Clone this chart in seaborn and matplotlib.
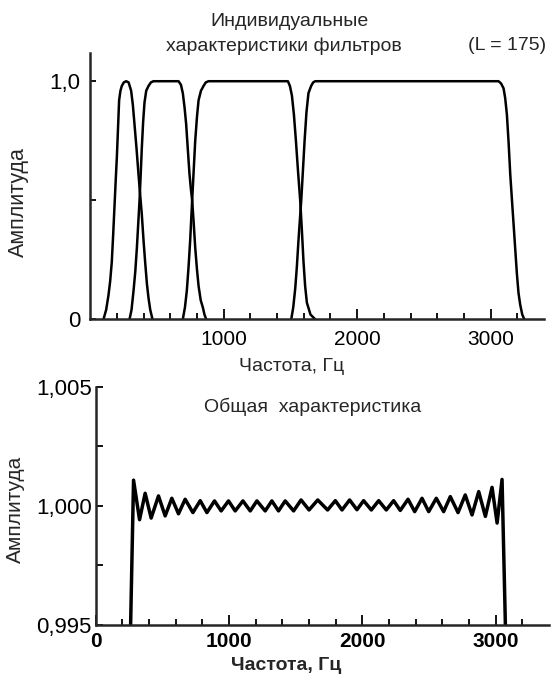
import numpy as np
import pandas as pd
import matplotlib
matplotlib.use("Agg")
import matplotlib.pyplot as plt
import seaborn as sns
from matplotlib.ticker import FixedLocator

# individual filter responses, Hz / amplitude
f1_freq = [100, 120, 137, 150, 162, 172, 182, 192, 200, 210, 217, 227, 237, 252, 270,
           288, 307, 320, 332, 347, 362, 375, 387, 400, 412, 425, 437, 450, 467]
f1_amp = [0, .04, .10, .16, .24, .35, .47, .59, .68, .82, .92, .96, .98, .995, 1.0,
          .995, .96, .90, .82, .72, .61, .52, .44, .33, .24, .15, .09, .04, 0]

f2_freq = [295, 310, 325, 338, 350, 360, 370, 378, 387, 397, 407, 420, 437, 455, 474,
           662, 680, 694, 707, 719, 732, 744, 754, 764, 776, 787, 800, 812, 828, 844, 856, 869]
f2_amp = [0, .04, .12, .20, .30, .40, .50, .60, .72, .83, .91, .96, .98, .995, 1.0,
          1.0, .985, .95, .89, .82, .71, .61, .55, .50, .40, .30, .21, .14, .08, .05, .02, 0]

f3_freq = [694, 710, 724, 737, 749, 757, 764, 775, 787, 800, 812, 830, 849, 866, 886,
           1481, 1496, 1511, 1526, 1541, 1557, 1573, 1586, 1598, 1610, 1623, 1650, 1685]
f3_amp = [0, .05, .12, .22, .33, .42, .50, .62, .75, .85, .92, .96, .98, .995, 1.0,
          1.0, .98, .94, .86, .75, .62, .50, .37, .24, .14, .07, .02, 0]

f4_freq = [1506, 1521, 1536, 1548, 1560, 1571, 1581, 1594, 1606, 1620, 1635, 1655, 1670, 1685,
           3059, 3078, 3096, 3108, 3121, 3134, 3146, 3159, 3171, 3184, 3196, 3208, 3221, 3236, 3251]
f4_amp = [0, .05, .13, .22, .33, .42, .50, .63, .75, .87, .95, .98, .995, 1.0,
          1.0, .99, .97, .93, .86, .74, .61, .50, .40, .29, .19, .11, .06, .02, 0]

# overall response: peaks and troughs of the ripple
total_freq = [262, 284, 329, 371, 416, 471, 521, 571, 621, 671, 729, 784, 834, 891, 941,
              996, 1046, 1104, 1159, 1209, 1271, 1321, 1371, 1421, 1484, 1540, 1600, 1665,
              1739, 1797, 1847, 1904, 1959, 2009, 2067, 2122, 2179, 2234, 2284, 2342, 2392,
              2447, 2497, 2554, 2609, 2659, 2717, 2771, 2822, 2872, 2922, 2972, 3010, 3047, 3072]
total_amp = [0.995, 1.00108, 0.99942, 1.00053, 0.99949, 1.00042, 0.99958, 1.00032, 0.99967,
             1.00028, 0.99972, 1.00022, 0.99972, 1.00021, 0.99979, 1.00021, 0.99979, 1.00021,
             0.99979, 1.00021, 0.99979, 1.00021, 0.99979, 1.00021, 0.99979, 1.00025, 0.99983,
             1.00025, 0.99983, 1.00022, 0.99983, 1.00025, 0.99984, 1.00022, 0.99983, 1.00022,
             0.99983, 1.00022, 0.99981, 1.00028, 0.99976, 1.00032, 0.99976, 1.00032, 0.99976,
             1.00039, 0.99972, 1.00046, 0.99962, 1.0006, 0.99956, 1.00078, 0.99928, 1.00111, 0.995]

top_xticks = [1000, 2000, 3000]
bot_xticks = [0, 1000, 2000, 3000]
minor_xticks = [200, 400, 600, 800, 1200, 1400, 1600, 1800, 2200, 2400, 2600, 2800, 3200]

sns.set_theme(style="ticks")
plt.rcParams['font.family'] = ['Liberation Sans', 'DejaVu Sans']

filters = pd.concat([
    pd.DataFrame({"freq": f1_freq, "amp": f1_amp, "filt": 1}),
    pd.DataFrame({"freq": f2_freq, "amp": f2_amp, "filt": 2}),
    pd.DataFrame({"freq": f3_freq, "amp": f3_amp, "filt": 3}),
    pd.DataFrame({"freq": f4_freq, "amp": f4_amp, "filt": 4}),
])
total = pd.DataFrame({"freq": total_freq, "amp": total_amp})

W, H = 553, 675
fig = plt.figure(figsize=(W / 100, H / 100), dpi=100)
ax1 = fig.add_axes([0.163, 0.527, 0.821, 0.395])
ax2 = fig.add_axes([0.173, 0.074, 0.820, 0.353])

sns.lineplot(data=filters, x="freq", y="amp", hue="filt", palette=["black"] * 4,
             estimator=None, legend=False, linewidth=1.8, ax=ax1,
             solid_joinstyle="round")
sns.lineplot(data=total, x="freq", y="amp", color="black", estimator=None,
             linewidth=2.5, ax=ax2, solid_joinstyle="round", solid_capstyle="butt")

for ax in (ax1, ax2):
    sns.despine(ax=ax)
    ax.spines["left"].set_linewidth(1.8)
    ax.spines["bottom"].set_linewidth(1.8)
    ax.set_xlim(0, 3400)
    ax.xaxis.set_minor_locator(FixedLocator(minor_xticks))
    ax.tick_params(which="both", direction="in", width=1.3, colors="black")
    ax.tick_params(which="major", length=7, labelsize=15, pad=8)
    ax.tick_params(which="minor", length=4)
    ax.set_xlabel("")
    ax.set_ylabel("")

ax1.set_ylim(0, 1.12)
ax1.set_xticks(top_xticks)
ax1.set_xticklabels(["1000", "2000", "3000"])
ax1.set_yticks([0, 0.5, 1.0])
ax1.set_yticklabels(["0", "", "1,0"])
ax1.tick_params(axis="y", length=4, pad=7, labelsize=16)

ax2.set_ylim(0.995, 1.005)
ax2.set_xticks(bot_xticks)
ax2.set_xticklabels(["0", "1000", "2000", "3000"], fontweight="bold")
ax2.set_yticks([0.995, 0.9975, 1.0, 1.0025, 1.005])
ax2.set_yticklabels(["0,995", "", "1,000", "", "1,005"])
ax2.tick_params(axis="y", length=5, pad=3, labelsize=16)
ax2.tick_params(axis="x", pad=5)


def px(x, y):
    return x / W, 1 - y / H


fig.text(*px(289, 22), "Индивидуальные", ha="center", va="center", fontsize=14)
fig.text(*px(284, 46), "характеристики фильтров", ha="center", va="center", fontsize=14)
fig.text(*px(507, 45), "(L = 175)", ha="center", va="center", fontsize=14)
fig.text(*px(18, 202), "Амплитуда", ha="center", va="center", rotation=90, fontsize=15.5)
fig.text(*px(292, 366), "Частота, Гц", ha="center", va="center", fontsize=14)
fig.text(*px(313, 407), "Общая  характеристика", ha="center", va="center", fontsize=14)
fig.text(*px(15, 509), "Амплитуда", ha="center", va="center", rotation=90, fontsize=15)
fig.text(*px(286, 665), "Частота, Гц", ha="center", va="center", fontsize=14,
         fontweight="bold")

fig.savefig("out.png", dpi=100)
